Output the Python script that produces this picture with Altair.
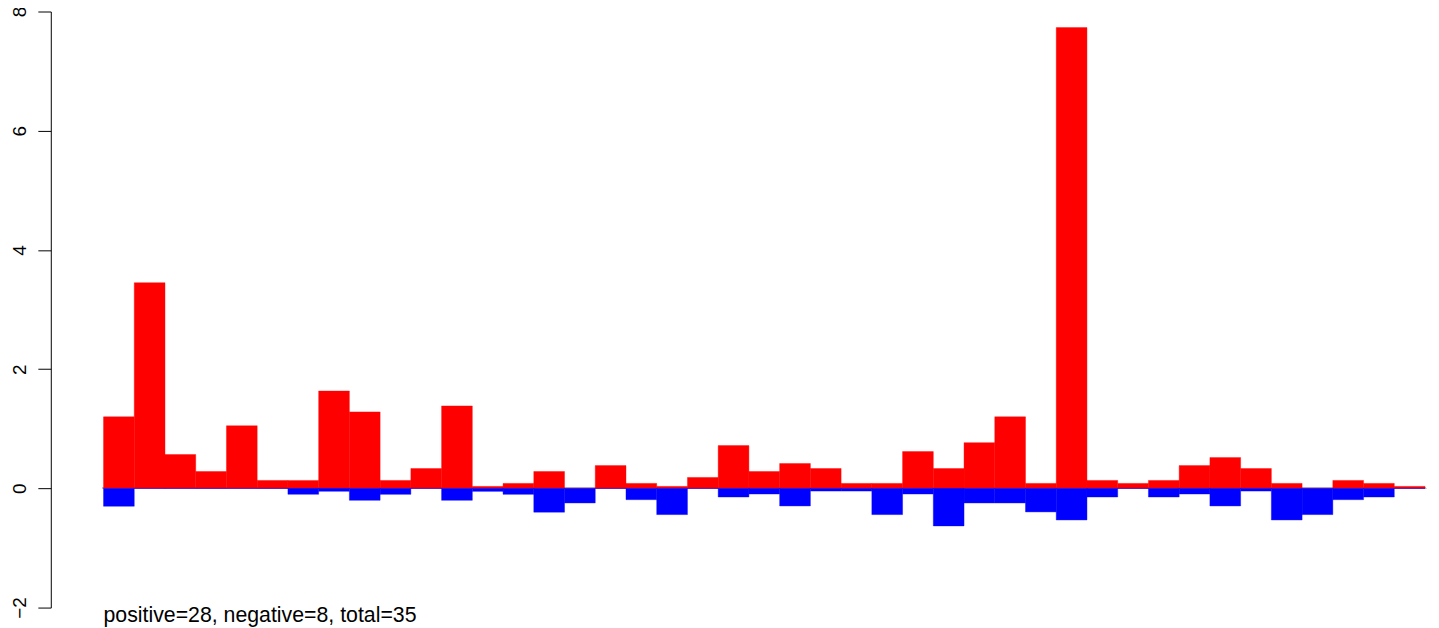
import altair as alt
import pandas as pd

# values (one bar per index)
pos_values = [1.2, 3.45, 0.567, 0.283, 1.05, 0.133, 0.133, 1.633, 1.283, 0.133,
              0.333, 1.383, 0.033, 0.083, 0.283, 0.0, 0.383, 0.083, 0.033, 0.183,
              0.717, 0.283, 0.417, 0.333, 0.083, 0.083, 0.617, 0.333, 0.767, 1.2,
              0.083, 7.73, 0.133, 0.083, 0.133, 0.383, 0.517, 0.333, 0.083, 0.0,
              0.133, 0.083, 0.033]
neg_values = [-0.3, 0.0, 0.0, 0.0, 0.0, 0.0, -0.1, -0.05, -0.2, -0.1,
              0.0, -0.2, -0.05, -0.1, -0.4, -0.245, 0.0, -0.19, -0.44, 0.0,
              -0.145, -0.095, -0.295, -0.045, -0.045, -0.44, -0.095, -0.63, -0.245, -0.245,
              -0.395, -0.53, -0.145, 0.0, -0.145, -0.095, -0.295, -0.045, -0.53, -0.44,
              -0.19, -0.145, 0.0]
y_ticks = [-2, 0, 2, 4, 6, 8]
footer = "positive=28, negative=8, total=35"

n = len(pos_values)
df = pd.DataFrame({
    "x0": list(range(n)),
    "x1": [i + 1 for i in range(n)],
    "pos": pos_values,
    "neg": neg_values,
    "base": [0.0] * n,
})

W, H = 1328, 599
FONT = "Liberation Sans, Arial, Helvetica, sans-serif"

xscale = alt.Scale(domain=[0, n], nice=False, zero=False)
yscale = alt.Scale(domain=[-2, 8], nice=False, zero=False)

yaxis = alt.Axis(
    values=y_ticks, title=None, grid=False, offset=53,
    domainColor="black", domainWidth=1, tickColor="black", tickWidth=1, tickSize=13,
    labelColor="black", labelFont=FONT, labelFontSize=19, labelAngle=270,
    labelAlign="center", labelBaseline="alphabetic", labelPadding=12,
    labelOverlap=False, labelBound=False, labelFlush=False,
)

base = alt.Chart(df)

zero_line = base.mark_rule(color="#BEBEBE", strokeWidth=1).encode(
    x=alt.value(-1), x2=alt.value(W + 1),
    y=alt.Y("base:Q", scale=yscale, axis=yaxis),
)

red = base.mark_rect(color="#FF0000", stroke="#FF0000", strokeWidth=0.4).encode(
    x=alt.X("x0:Q", scale=xscale, axis=None), x2="x1:Q",
    y=alt.Y("pos:Q", scale=yscale, axis=yaxis), y2="base:Q",
)

blue = base.mark_rect(color="#0000FF", stroke="#0000FF", strokeWidth=0.4).encode(
    x=alt.X("x0:Q", scale=xscale, axis=None), x2="x1:Q",
    y=alt.Y("neg:Q", scale=yscale, axis=yaxis), y2="base:Q",
)

note = alt.Chart(pd.DataFrame({"t": [footer]})).mark_text(
    align="left", baseline="alphabetic", font=FONT, fontSize=21.4, color="black"
).encode(x=alt.value(0), y=alt.value(H + 14), text="t:N")

chart = alt.layer(zero_line, red, blue, note).properties(
    width=W, height=H,
    autosize=alt.AutoSizeParams(type="none"),
    padding={"left": 96, "top": 2, "right": 6, "bottom": 19},
).configure(background="white").configure_view(stroke=None)

chart.save("out.html", embed_options={"renderer": "svg", "actions": False})
